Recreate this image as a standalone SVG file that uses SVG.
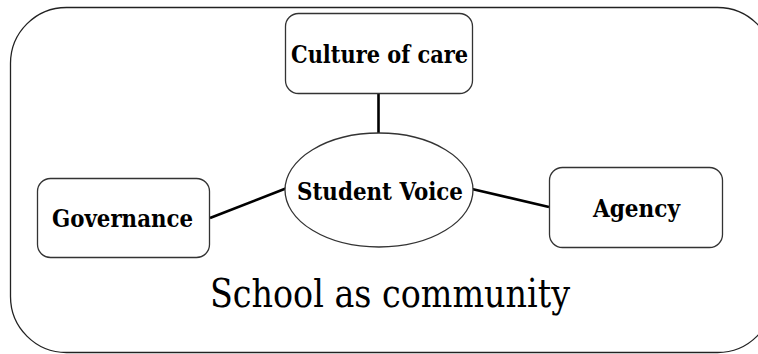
<svg xmlns="http://www.w3.org/2000/svg" width="758" height="354" viewBox="0 0 758 354">
  <style>
    .frame { fill: #ffffff; stroke: #222222; stroke-width: 1.3; }
    .box { fill: #ffffff; stroke: #333333; stroke-width: 1.3; }
    .link { stroke: #000000; stroke-width: 2.6; fill: none; }
    .label { font-family: 'DejaVu Serif Condensed', 'DejaVu Serif', 'Liberation Serif', serif; font-stretch: condensed; font-weight: 700; font-size: 25px; fill: #000000; }
    .title { font-family: 'DejaVu Serif Condensed', 'DejaVu Serif', 'Liberation Serif', serif; font-stretch: condensed; font-size: 40px; fill: #000000; }
  </style>
  <rect width="758" height="354" fill="#ffffff"/>

  <!-- enclosing community frame -->
  <g id="community">
    <rect class="frame" x="10.5" y="7.5" width="763" height="345" rx="56" ry="56"/>
    <text class="title" x="210" y="307" textLength="360" lengthAdjust="spacingAndGlyphs">School as community</text>
  </g>

  <!-- connectors -->
  <g id="connectors">
    <line class="link" x1="378.5" y1="93" x2="378.5" y2="133"/>
    <line class="link" x1="210" y1="218" x2="287" y2="188"/>
    <line class="link" x1="472" y1="189" x2="549" y2="207"/>
  </g>

  <g id="culture-of-care">
    <rect class="box" x="285.5" y="13.5" width="187" height="80" rx="13" ry="13"/>
    <text class="label" x="291" y="63" textLength="177" lengthAdjust="spacingAndGlyphs">Culture of care</text>
  </g>

  <g id="student-voice">
    <ellipse class="box" cx="379" cy="190" rx="94" ry="57"/>
    <text class="label" x="297" y="200" textLength="166" lengthAdjust="spacingAndGlyphs">Student Voice</text>
  </g>

  <g id="governance">
    <rect class="box" x="37.5" y="178.5" width="172" height="79" rx="13" ry="13"/>
    <text class="label" x="52" y="227" textLength="141" lengthAdjust="spacingAndGlyphs">Governance</text>
  </g>

  <g id="agency">
    <rect class="box" x="549.5" y="167.5" width="173" height="80" rx="13" ry="13"/>
    <text class="label" x="593" y="217" textLength="87" lengthAdjust="spacingAndGlyphs">Agency</text>
  </g>
</svg>
